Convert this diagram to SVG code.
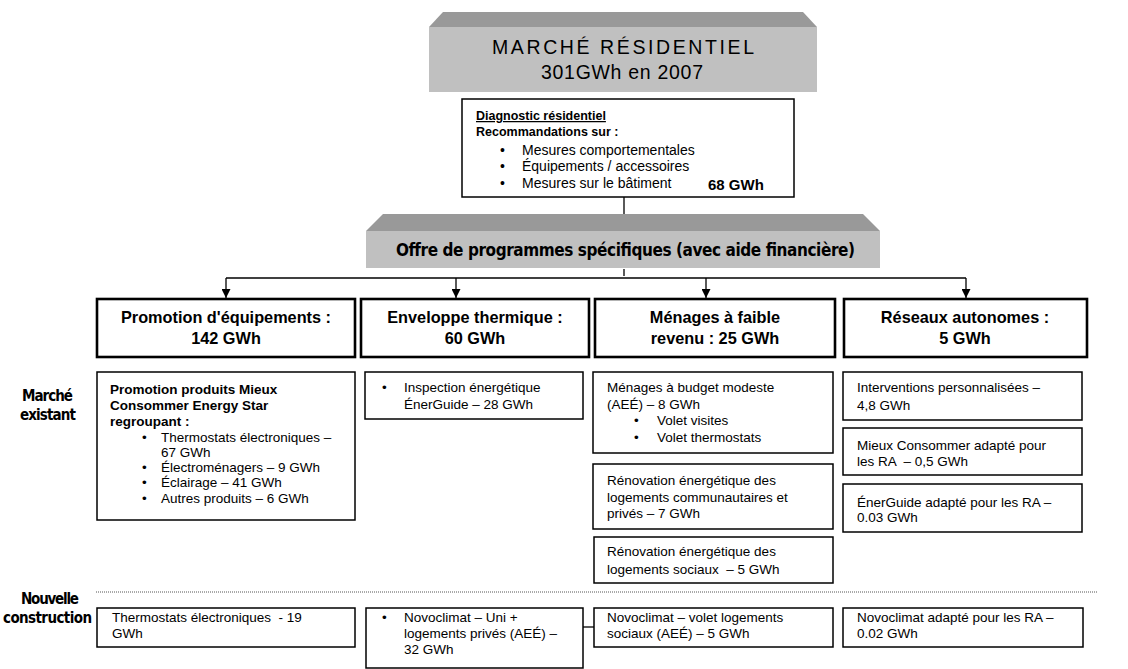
<svg xmlns="http://www.w3.org/2000/svg" width="1128" height="669" viewBox="0 0 1128 669">
<style>
.box{fill:#fff;stroke:#000;stroke-width:1.5}
.hbox{fill:#fff;stroke:#000;stroke-width:2.6}
.t{font-family:"Liberation Sans",Arial,sans-serif;font-size:13.5px;fill:#000;white-space:pre}
.d{font-size:14px}
.b{font-weight:bold}
.h{font-family:"Liberation Sans",Arial,sans-serif;font-size:16.3px;font-weight:bold;text-anchor:middle;fill:#000}
.n{font-family:"Liberation Sans Narrow","Arial Narrow","DejaVu Sans Condensed",sans-serif;font-weight:bold;font-size:15px;fill:#000}
.face{fill:#c0c0c0}
.top{fill:#999}
.con{stroke:#000;stroke-width:1.3;fill:none}
</style>
<defs>
<marker id="ar" viewBox="0 0 10 10" refX="10" refY="5" markerWidth="9" markerHeight="9" markerUnits="userSpaceOnUse" orient="auto">
<path d="M0,0 L10,5 L0,10 z" fill="#000"/>
</marker>
</defs>

<g id="connectors">
<line class="con" x1="624" y1="197" x2="624" y2="214"/>
<line class="con" x1="624" y1="269" x2="624" y2="276"/>
<line class="con" x1="226" y1="278" x2="966" y2="278"/>
<line class="con" x1="226" y1="278" x2="226" y2="298" marker-end="url(#ar)"/>
<line class="con" x1="456" y1="278" x2="456" y2="298" marker-end="url(#ar)"/>
<line class="con" x1="706" y1="278" x2="706" y2="298" marker-end="url(#ar)"/>
<line class="con" x1="966" y1="278" x2="966" y2="298" marker-end="url(#ar)"/>
<line class="con" x1="583" y1="627" x2="594" y2="627"/>
<line x1="96" y1="592" x2="1098" y2="592" stroke="#555" stroke-width="1" stroke-dasharray="1 1"/>
</g>

<g id="marche-residentiel">
<polygon class="top" points="429,27 443,12 803,12 817,27"/>
<rect class="face" x="429" y="27" width="388" height="65"/>
<text class="t" x="492" y="54" style="font-size:19.5px" textLength="262">MARCHÉ RÉSIDENTIEL</text>
<text class="t" x="541" y="79" style="font-size:19.5px" textLength="162">301GWh en 2007</text>
</g>

<g id="diagnostic">
<rect class="box" x="462" y="99" width="332" height="98"/>
<text class="t b" x="476" y="120" style="font-size:12.5px" text-decoration="underline">Diagnostic résidentiel</text>
<text class="t b" x="476" y="136" style="font-size:12.5px">Recommandations sur :</text>
<text class="t d" x="500" y="155">•</text><text class="t d" x="522" y="155">Mesures comportementales</text>
<text class="t d" x="500" y="171">•</text><text class="t d" x="522" y="171">Équipements / accessoires</text>
<text class="t d" x="500" y="188">•</text><text class="t d" x="522" y="188">Mesures sur le bâtiment</text>
<text class="t b" x="708" y="190" style="font-size:15px">68 GWh</text>
</g>

<g id="offre">
<polygon class="top" points="366,231 383,214 863,214 880,231"/>
<rect class="face" x="366" y="231" width="514" height="37"/>
<text class="n" x="396" y="256" style="font-size:17px" textLength="459">Offre de programmes spécifiques (avec aide financière)</text>
</g>

<g id="col1-header">
<rect class="hbox" x="97" y="299" width="258" height="58"/>
<text class="h" x="226" y="323">Promotion d'équipements :</text>
<text class="h" x="226" y="344">142 GWh</text>
</g>
<g id="col2-header">
<rect class="hbox" x="361" y="299" width="228" height="58"/>
<text class="h" x="475" y="323">Enveloppe thermique :</text>
<text class="h" x="475" y="344">60 GWh</text>
</g>
<g id="col3-header">
<rect class="hbox" x="595" y="299" width="240" height="58"/>
<text class="h" x="715" y="323">Ménages à faible</text>
<text class="h" x="715" y="344">revenu : 25 GWh</text>
</g>
<g id="col4-header">
<rect class="hbox" x="844" y="299" width="243" height="58"/>
<text class="h" x="965" y="323">Réseaux autonomes :</text>
<text class="h" x="965" y="344">5 GWh</text>
</g>

<g id="label-existant">
<text class="n" x="22" y="401" textLength="51">Marché</text>
<text class="n" x="20" y="420" textLength="56">existant</text>
</g>
<g id="label-nouvelle">
<text class="n" x="21" y="604" textLength="58">Nouvelle</text>
<text class="n" x="3" y="623" textLength="89">construction</text>
</g>

<g id="col1-existant">
<rect class="box" x="97" y="372" width="258" height="148"/>
<text class="t b" x="110" y="394">Promotion produits Mieux</text>
<text class="t b" x="110" y="410">Consommer Energy Star</text>
<text class="t b" x="110" y="426">regroupant :</text>
<text class="t" x="142" y="442">•</text><text class="t" x="161" y="442">Thermostats électroniques –</text>
<text class="t" x="161" y="457">67 GWh</text>
<text class="t" x="142" y="472">•</text><text class="t" x="161" y="472">Électroménagers – 9 GWh</text>
<text class="t" x="142" y="487">•</text><text class="t" x="161" y="487">Éclairage – 41 GWh</text>
<text class="t" x="142" y="503">•</text><text class="t" x="161" y="503">Autres produits – 6 GWh</text>
</g>

<g id="col2-existant">
<rect class="box" x="365" y="372" width="218" height="47"/>
<text class="t" x="382" y="392">•</text><text class="t" x="404" y="392">Inspection énergétique</text>
<text class="t" x="404" y="409">ÉnerGuide – 28 GWh</text>
</g>

<g id="col3-existant-a">
<rect class="box" x="593" y="372" width="240" height="81"/>
<text class="t" x="607" y="392">Ménages à budget modeste</text>
<text class="t" x="607" y="409">(AEÉ) – 8 GWh</text>
<text class="t" x="634" y="425">•</text><text class="t" x="657" y="425">Volet visites</text>
<text class="t" x="634" y="442">•</text><text class="t" x="657" y="442">Volet thermostats</text>
</g>
<g id="col3-existant-b">
<rect class="box" x="593" y="464" width="240" height="65"/>
<text class="t" x="607" y="485">Rénovation énergétique des</text>
<text class="t" x="607" y="502">logements communautaires et</text>
<text class="t" x="607" y="518">privés – 7 GWh</text>
</g>
<g id="col3-existant-c">
<rect class="box" x="594" y="537" width="239" height="46"/>
<text class="t" x="607" y="556">Rénovation énergétique des</text>
<text class="t" x="607" y="574" xml:space="preserve">logements sociaux  – 5 GWh</text>
</g>

<g id="col4-existant-a">
<rect class="box" x="843" y="372" width="239" height="48"/>
<text class="t" x="857" y="392">Interventions personnalisées –</text>
<text class="t" x="857" y="410">4,8 GWh</text>
</g>
<g id="col4-existant-b">
<rect class="box" x="843" y="428" width="239" height="47"/>
<text class="t" x="857" y="450">Mieux Consommer adapté pour</text>
<text class="t" x="857" y="466" xml:space="preserve">les RA  – 0,5 GWh</text>
</g>
<g id="col4-existant-c">
<rect class="box" x="843" y="484" width="239" height="48"/>
<text class="t" x="857" y="507">ÉnerGuide adapté pour les RA –</text>
<text class="t" x="857" y="522">0.03 GWh</text>
</g>

<g id="col1-nouvelle">
<rect class="box" x="97" y="608" width="258" height="39"/>
<text class="t" x="112" y="622" xml:space="preserve">Thermostats électroniques  - 19</text>
<text class="t" x="112" y="638">GWh</text>
</g>
<g id="col2-nouvelle">
<rect class="box" x="366" y="608" width="217" height="60"/>
<text class="t" x="382" y="622">•</text><text class="t" x="404" y="622">Novoclimat – Uni +</text>
<text class="t" x="404" y="638">logements privés (AEÉ) –</text>
<text class="t" x="404" y="654">32 GWh</text>
</g>
<g id="col3-nouvelle">
<rect class="box" x="594" y="608" width="239" height="39"/>
<text class="t" x="607" y="622">Novoclimat – volet logements</text>
<text class="t" x="607" y="638">sociaux (AEÉ) – 5 GWh</text>
</g>
<g id="col4-nouvelle">
<rect class="box" x="843" y="608" width="240" height="39"/>
<text class="t" x="857" y="622">Novoclimat adapté pour les RA –</text>
<text class="t" x="857" y="638">0.02 GWh</text>
</g>
</svg>
